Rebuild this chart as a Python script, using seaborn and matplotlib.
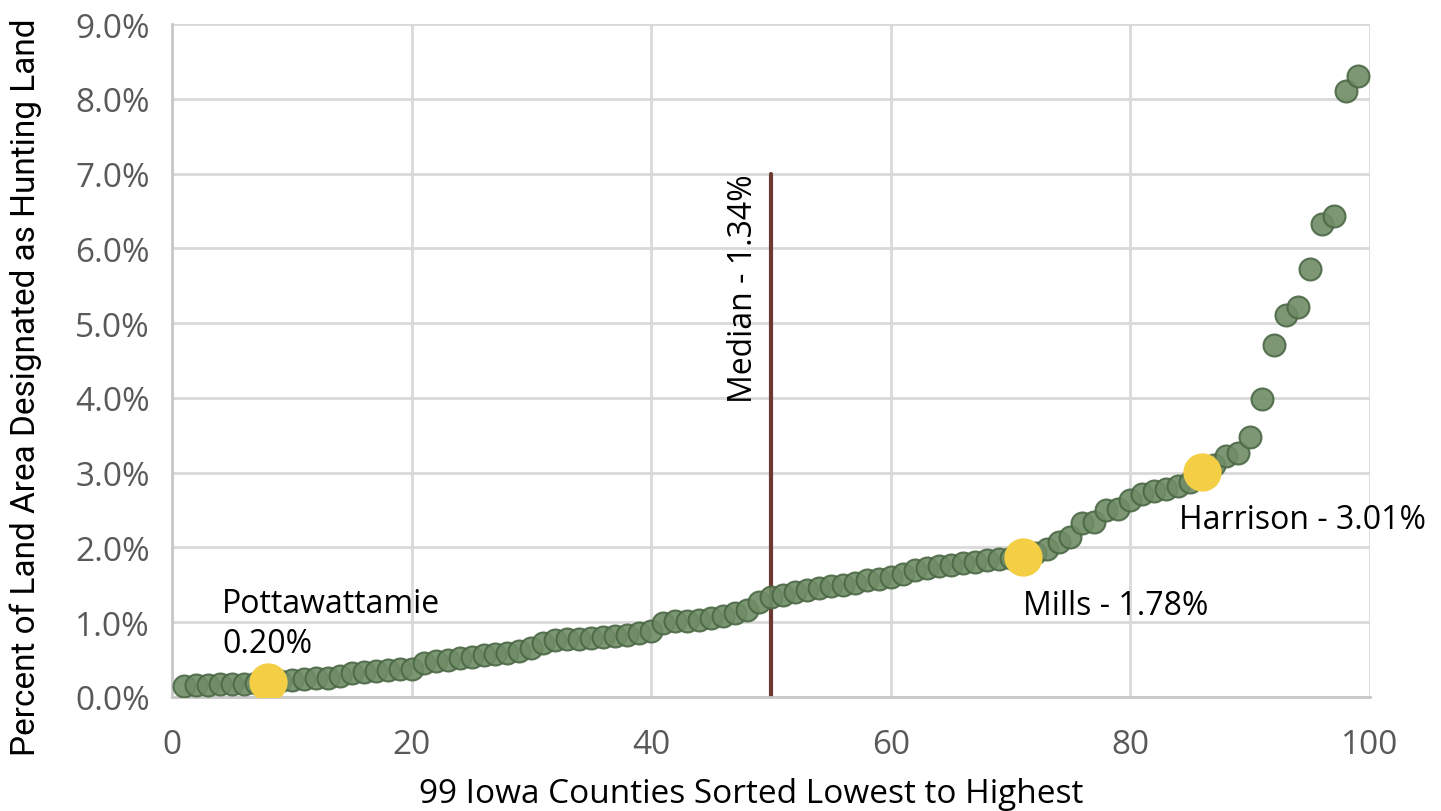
import matplotlib
matplotlib.use("Agg")
import matplotlib.pyplot as plt
import seaborn as sns
import pandas as pd
from matplotlib.ticker import PercentFormatter, MultipleLocator

rank = list(range(1, 100))
pct = [0.15, 0.16, 0.16, 0.17, 0.17, 0.18, 0.19, 0.20, 0.22, 0.23,
       0.24, 0.25, 0.26, 0.28, 0.32, 0.34, 0.35, 0.36, 0.37, 0.38,
       0.46, 0.48, 0.50, 0.52, 0.54, 0.56, 0.58, 0.59, 0.61, 0.66,
       0.72, 0.76, 0.77, 0.78, 0.79, 0.80, 0.82, 0.83, 0.85, 0.88,
       0.99, 1.01, 1.02, 1.03, 1.05, 1.08, 1.12, 1.17, 1.27, 1.34,
       1.37, 1.40, 1.43, 1.46, 1.48, 1.50, 1.53, 1.56, 1.58, 1.60,
       1.64, 1.70, 1.73, 1.75, 1.77, 1.79, 1.81, 1.83, 1.85, 1.86,
       1.87, 1.92, 1.98, 2.07, 2.14, 2.33, 2.34, 2.50, 2.51, 2.64,
       2.71, 2.75, 2.78, 2.82, 2.88, 3.01, 3.10, 3.22, 3.26, 3.48,
       3.98, 4.71, 5.11, 5.22, 5.72, 6.32, 6.43, 8.10, 8.31]

highlight_rank = [8, 71, 86]
highlight_pct = [0.20, 1.87, 3.01]
highlight_labels = ["Pottawattamie\n0.20%", "Mills - 1.78%", "Harrison - 3.01%"]

median_rank = 50
median_pct_top = 7.0
median_label = "Median - 1.34%"

x_label = "99 Iowa Counties Sorted Lowest to Highest"
y_label = "Percent of Land Area Designated as Hunting Land"

df = pd.DataFrame({"rank": rank, "pct": pct})
hl = pd.DataFrame({"rank": highlight_rank, "pct": highlight_pct})

sns.set_theme(style="white")
plt.rcParams["font.family"] = ["Open Sans", "DejaVu Sans"]

fig = plt.figure(figsize=(14.41, 8.12), dpi=100)
ax = fig.add_axes([0.1194, 0.1404, 0.8313, 0.8288])

ax.set_xlim(0, 100)
ax.set_ylim(0, 9)
ax.xaxis.set_major_locator(MultipleLocator(20))
ax.yaxis.set_major_locator(MultipleLocator(1))
ax.yaxis.set_major_formatter(PercentFormatter(decimals=1))
ax.grid(True, color="#d9d9d9", linewidth=2)
ax.set_axisbelow(True)
for s in ["top", "right"]:
    ax.spines[s].set_visible(False)
for s in ["left", "bottom"]:
    ax.spines[s].set_color("#c8c8c8")
    ax.spines[s].set_linewidth(2)

ax.plot([median_rank, median_rank], [0, median_pct_top], color="#6b3a33",
        linewidth=3, zorder=2)

sns.scatterplot(data=df, x="rank", y="pct", ax=ax, s=250, color="#6f8c66",
                edgecolor="#4b6845", linewidth=1.5, alpha=0.9, zorder=3)
sns.scatterplot(data=hl, x="rank", y="pct", ax=ax, s=760, color="#f4ce45",
                edgecolor="#f4ce45", linewidth=0, zorder=4)

ax.tick_params(axis="y", labelsize=24, labelcolor="#595959", length=0, pad=16)
ax.tick_params(axis="x", labelsize=24, labelcolor="#595959", length=0, pad=22)
for lab in ax.get_xticklabels() + ax.get_yticklabels():
    lab.set_fontweight("medium")
ax.set_xlabel("")
ax.set_ylabel("")
fig.text(0.521, 0.022, x_label, ha="center", va="center", fontsize=24,
         color="black", fontweight="medium")
fig.text(0.018, 0.523, y_label, rotation=90, ha="center", va="center",
         fontsize=24, color="black",
         family=["DejaVu Sans Condensed", "Roboto", "DejaVu Sans"])

ax.text(4.2, 0.5, highlight_labels[0], fontsize=23, color="black",
        ha="left", va="bottom", linespacing=1.25, fontweight="medium")
ax.text(71.0, 1.23, highlight_labels[1], fontsize=23, color="black",
        ha="left", va="center", fontweight="medium")
ax.text(84.1, 2.38, highlight_labels[2], fontsize=23, color="black",
        ha="left", va="center", fontweight="medium")
ax.text(47.7, 7.0, median_label, fontsize=23, color="black", rotation=90,
        ha="center", va="top", fontweight="medium")

fig.savefig("out.png", dpi=100)
